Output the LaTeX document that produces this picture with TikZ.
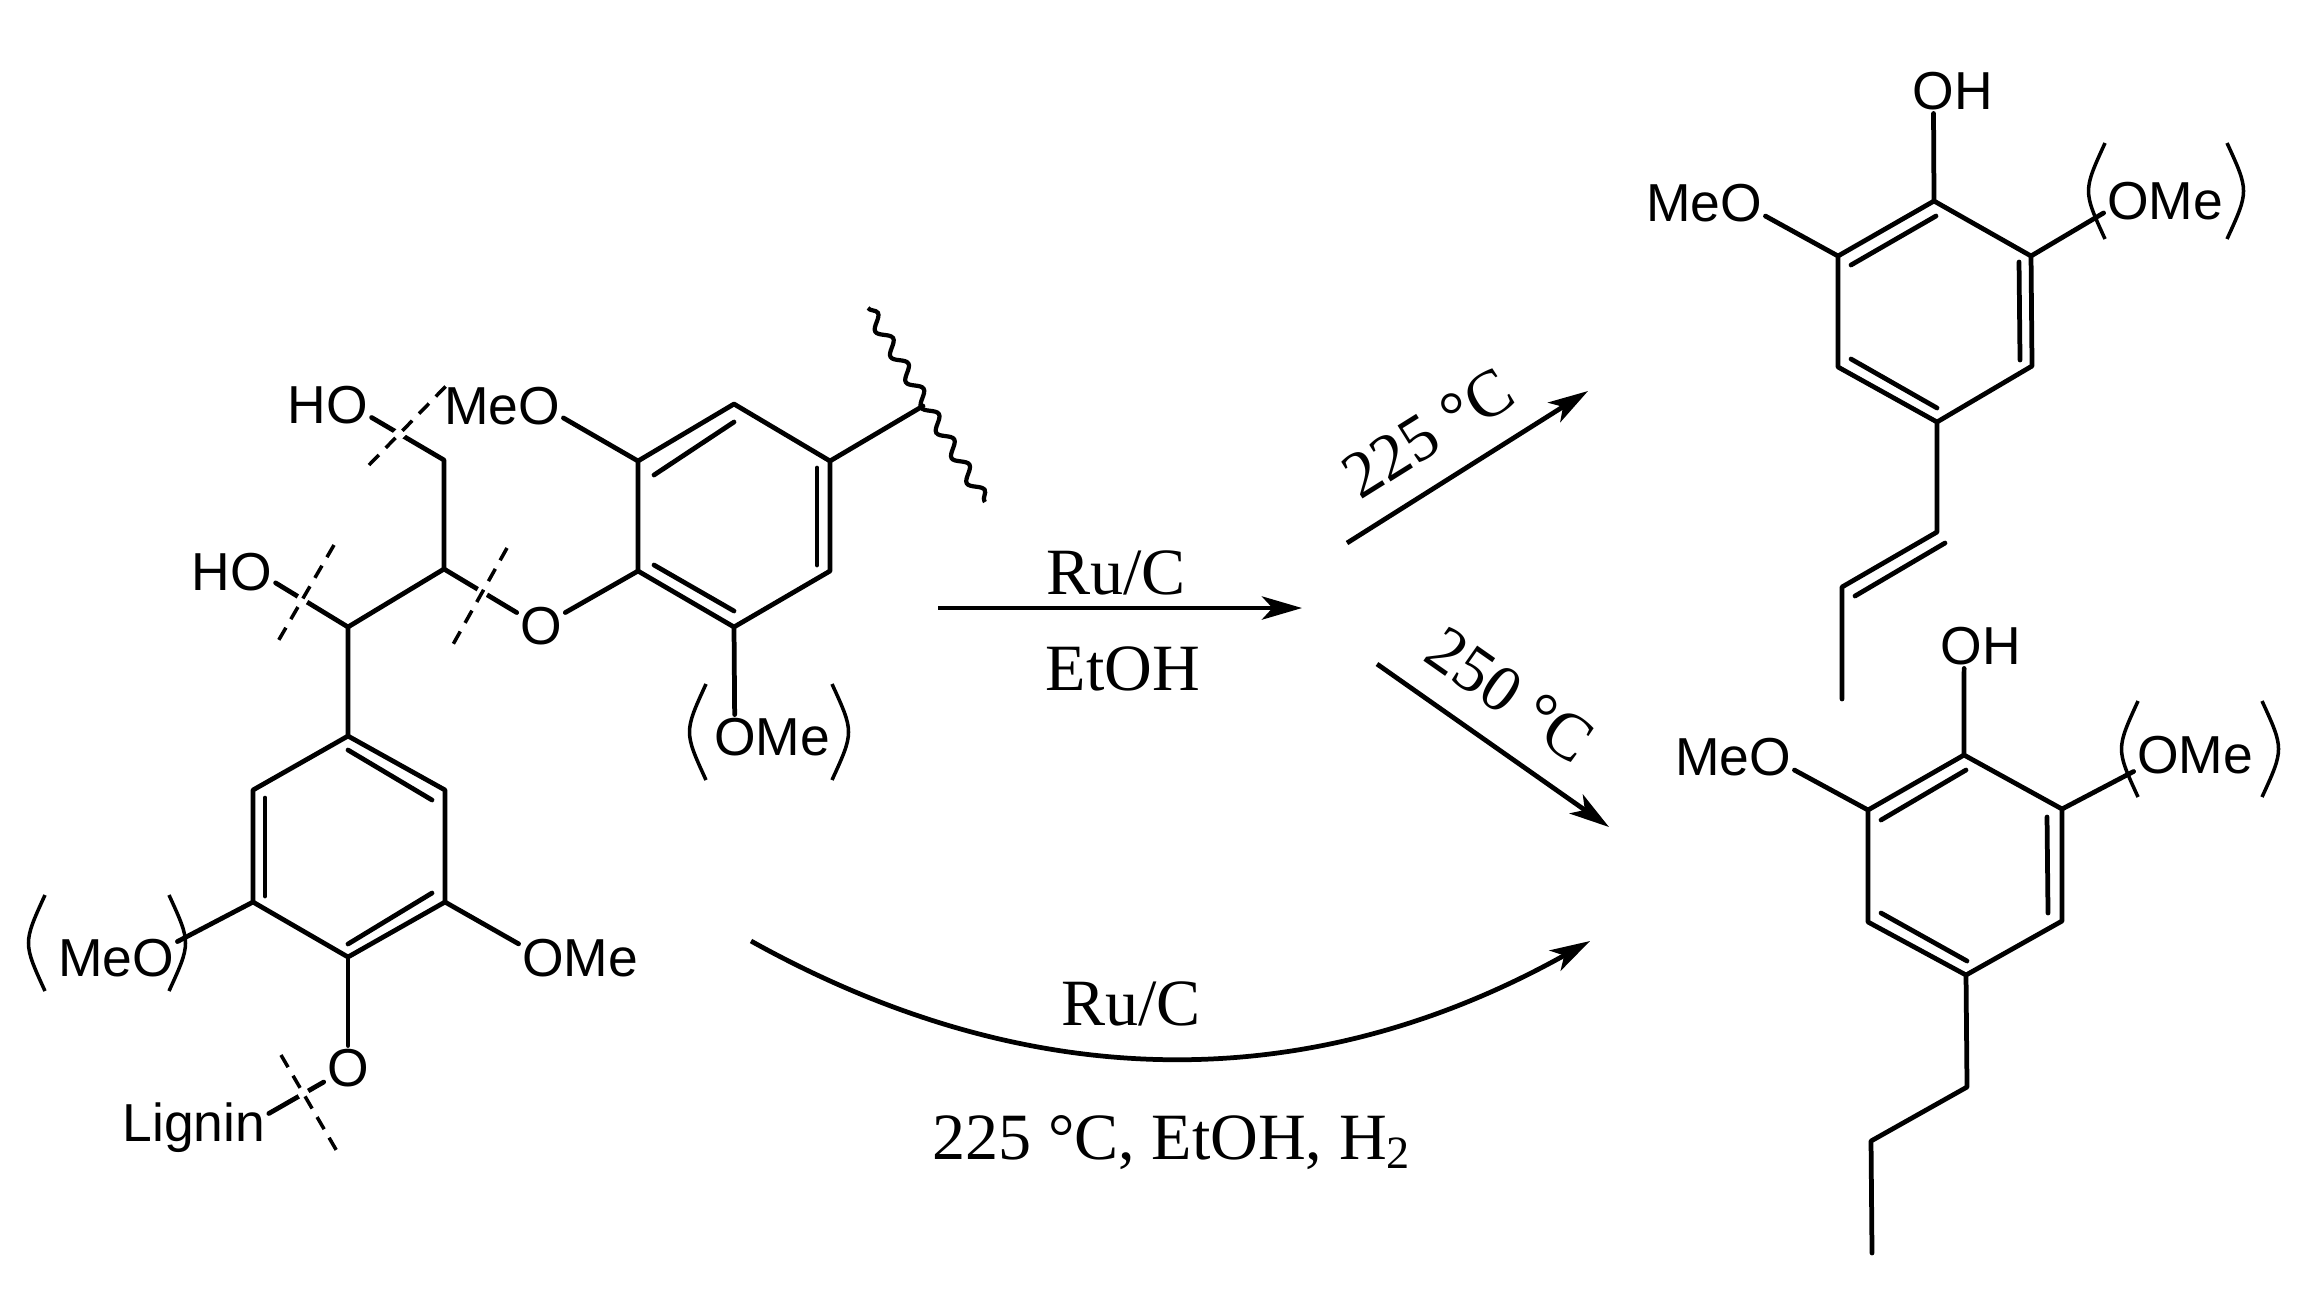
\documentclass[tikz,border=0pt]{standalone}
\usepackage{fontspec}
\setmainfont{Liberation Serif}
\newfontfamily\chemfont{Liberation Sans}
\usetikzlibrary{arrows.meta, decorations.pathmorphing}

\begin{document}
\begin{tikzpicture}[
            x=0.01cm, y=-0.01cm,
            atom/.style={font=\chemfont\fontsize{15.2}{18}\selectfont, inner sep=0.8pt},
            cond/.style={font=\fontsize{18.8}{22}\selectfont, inner sep=0pt},
            bond/.style={line width=1.35pt, line cap=round, line join=round},
            brack/.style={line width=1pt},
            cut/.style={line width=1pt, dash pattern=on 4pt off 2.8pt, preaction={draw, white, solid, line width=3pt}},
            wavy/.style={line width=1.2pt, decorate, decoration={snake, amplitude=1.7pt, segment length=8.4pt}},
            arrow/.style={-{Stealth[length=11.4pt, width=6.6pt, inset=3pt]}, line width=1.35pt}
        ]
        \useasboundingbox (0,0) rectangle (2310,1299);

        % Define the ring atoms of the three structures
        \coordinate (ringa1) at (734,404);
        \coordinate (ringa2) at (830,461);
        \coordinate (ringa3) at (830,571);
        \coordinate (ringa4) at (734,627);
        \coordinate (ringa5) at (638,571);
        \coordinate (ringa6) at (638,461);
        \coordinate (ringb1) at (348,736);
        \coordinate (ringb2) at (445,790);
        \coordinate (ringb3) at (445,902);
        \coordinate (ringb4) at (348,957);
        \coordinate (ringb5) at (253,902);
        \coordinate (ringb6) at (253,790);
        \coordinate (ringc1) at (1934,201);
        \coordinate (ringc2) at (2031,256);
        \coordinate (ringc3) at (2032,366);
        \coordinate (ringc4) at (1937,422);
        \coordinate (ringc5) at (1838,367);
        \coordinate (ringc6) at (1838,256);
        \coordinate (ringd1) at (1964,755);
        \coordinate (ringd2) at (2062,809);
        \coordinate (ringd3) at (2062,921);
        \coordinate (ringd4) at (1966,975);
        \coordinate (ringd5) at (1868,922);
        \coordinate (ringd6) at (1868,810);

        % Define the side chains
        \coordinate (chaina) at (348,627);
        \coordinate (chainb) at (444,569);
        \coordinate (chainc) at (444,460);
        \coordinate (allyla) at (1937,532);
        \coordinate (allylb) at (1842,587);
        \coordinate (allylc) at (1842,699);
        \coordinate (propa) at (1967,1087);
        \coordinate (propb) at (1871,1141);
        \coordinate (propc) at (1872,1253);

        % Define the atom labels
        \node[atom] (hotop) at (328,405) {HO};
        \node[atom] (hoside) at (232,572) {HO};
        \node[atom] (oether) at (541,626) {O};
        \node[atom] (omelow) at (772,737) {OMe};
        \node[atom] (meoleft) at (116,958) {MeO};
        \node[atom] (omeright) at (580,958) {OMe};
        \node[atom] (obottom) at (348,1068) {O};
        \node[atom] (lignin) at (194,1128) {Lignin};
        \node[atom] (ohupper) at (1953,91) {OH};
        \node[atom] (meoupper) at (1704,203) {MeO};
        \node[atom] (omeupper) at (2165,201) {OMe};
        \node[atom] (ohlower) at (1981,646) {OH};
        \node[atom] (meolower) at (1733,757) {MeO};
        \node[atom] (omelower) at (2195,755) {OMe};

        % Draw the first ring with its substituents
        \draw[bond] (ringa1) -- (ringa2) -- (ringa3) -- (ringa4) -- (ringa5) -- (ringa6) -- cycle;
        \draw[bond] (734,422) -- (654,475);
        \draw[bond] (817,468) -- (817,565);
        \draw[bond] (734,611) -- (654,565);
        \draw[bond] (ringa5) -- (oether.29);
        \draw[bond] (ringa4) -- (omelow.149);

        % Draw the chain between the rings
        \draw[bond] (oether.151) -- (chainb) -- (chaina) -- (ringb1);
        \draw[bond] (chainb) -- (chainc) -- (hotop.-16);
        \draw[bond] (chaina) -- (hoside.-14);

        % Draw the second ring with its substituents
        \draw[bond] (ringb1) -- (ringb2) -- (ringb3) -- (ringb4) -- (ringb5) -- (ringb6) -- cycle;
        \draw[bond] (348,750) -- (432,800);
        \draw[bond] (265,798) -- (265,896);
        \draw[bond] (348,944) -- (432,893);
        \draw[bond] (ringb5) -- (meoleft.15);
        \draw[bond] (ringb3) -- (omeright.167);
        \draw[bond] (ringb4) -- (obottom.north);
        \draw[bond] (obottom.210) -- (lignin.11);

        % Draw the brackets of the optional groups
        \draw[brack] (706,684) .. controls (684,732) .. (706,780);
        \draw[brack] (832,684) .. controls (854,732) .. (832,780);
        \draw[brack] (45,895) .. controls (23,943) .. (45,991);
        \draw[brack] (169,895) .. controls (191,943) .. (169,991);
        \draw[brack] (2105,143) .. controls (2083,191) .. (2105,239);
        \draw[brack] (2227,143) .. controls (2249,191) .. (2227,239);
        \draw[brack] (2138,701) .. controls (2116,749) .. (2138,797);
        \draw[brack] (2262,701) .. controls (2284,749) .. (2262,797);

        % Draw the wavy cut and the dashed cleavage marks
        \coordinate (wavya) at (868,308);
        \coordinate (wavyb) at (985,502);
        \coordinate (wavyc) at (923,406);
        \draw[bond] (ringa2) -- (wavyc);
        \draw[wavy] (wavya) -- (wavyb);
        \coordinate (cuta) at (369,465);
        \coordinate (cutb) at (446,386);
        \coordinate (cutc) at (334,545);
        \coordinate (cutd) at (277,643);
        \coordinate (cute) at (507,548);
        \coordinate (cutf) at (451,648);
        \coordinate (cutg) at (281,1055);
        \coordinate (cuth) at (338,1153);
        \draw[cut] (cuta) -- (cutb);
        \draw[cut] (cutc) -- (cutd);
        \draw[cut] (cute) -- (cutf);
        \draw[cut] (cutg) -- (cuth);

        \node[atom] (meotop) at (502,406) {MeO};
        \draw[bond] (ringa6) -- (meotop.-11);

        % Draw the upper product
        \draw[bond] (ringc1) -- (ringc2) -- (ringc3) -- (ringc4) -- (ringc5) -- (ringc6) -- cycle;
        \draw[bond] (1936,216) -- (1851,265);
        \draw[bond] (2019,262) -- (2020,360);
        \draw[bond] (1851,359) -- (1937,408);
        \draw[bond] (ringc1) -- (ohupper.229);
        \draw[bond] (ringc6) -- (meoupper.-12);
        \draw[bond] (ringc2) -- (omeupper.191);
        \draw[bond] (ringc4) -- (allyla) -- (allylb) -- (allylc);
        \draw[bond] (1945,543) -- (1855,596);

        % Draw the lower product
        \draw[bond] (ringd1) -- (ringd2) -- (ringd3) -- (ringd4) -- (ringd5) -- (ringd6) -- cycle;
        \draw[bond] (1966,770) -- (1881,820);
        \draw[bond] (2047,817) -- (2048,913);
        \draw[bond] (1881,913) -- (1967,961);
        \draw[bond] (ringd1) -- (ohlower.233);
        \draw[bond] (ringd6) -- (meolower.-12);
        \draw[bond] (ringd2) -- (omelower.195);
        \draw[bond] (ringd4) -- (propa) -- (propb) -- (propc);

        % Draw the reaction arrows
        \coordinate (reacta) at (938,608);
        \coordinate (reactb) at (1302,608);
        \coordinate (uppera) at (1347,543);
        \coordinate (upperb) at (1588,391);
        \coordinate (lowera) at (1377,664);
        \coordinate (lowerb) at (1609,827);
        \coordinate (curvea) at (751,941);
        \coordinate (curveb) at (1590,941);
        \draw[arrow] (reacta) -- (reactb);
        \draw[arrow] (uppera) -- (upperb);
        \draw[arrow] (lowera) -- (lowerb);
        \draw[arrow] (curvea) .. controls (1031,1097) and (1311,1097) .. (curveb);

        % Define the reaction conditions
        \node[cond, anchor=base] (catalyst) at (1116,594) {Ru/C};
        \node[cond, anchor=base] (solvent) at (1123,690) {EtOH};
        \node[cond, rotate=32] (tempa) at (1428,433) {225 °C};
        \node[cond, rotate=-35] (tempb) at (1510,695) {250 °C};
        \node[cond, anchor=base] (catalystb) at (1131,1025) {Ru/C};
        \node[cond, anchor=base] (hydrogen) at (1172,1159) {225 °C, EtOH, H\textsubscript{2}};
    \end{tikzpicture}
\end{document}
